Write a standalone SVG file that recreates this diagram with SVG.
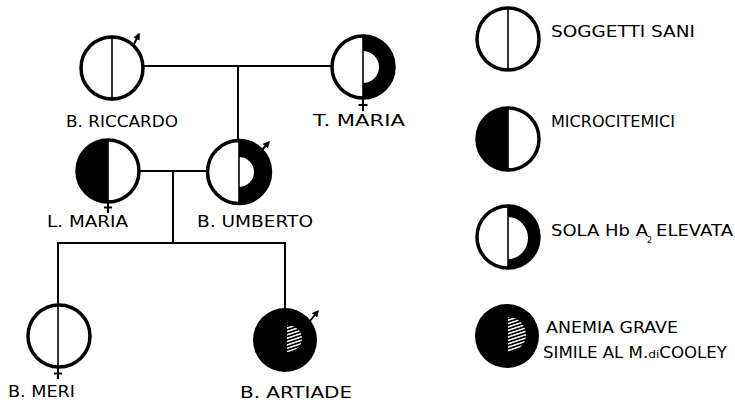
<svg xmlns="http://www.w3.org/2000/svg" width="735" height="405" viewBox="0 0 735 405">
  <defs>
    <style>
      .ring { fill: none; stroke: #000; stroke-width: 3.5; }
      .disc { fill: #fff; }
      .solid { fill: #000; stroke: none; }
      .div { stroke: #000; stroke-width: 1.6; fill: none; }
      .link { stroke: #000; stroke-width: 2; fill: none; }
      .sex { stroke: #000; stroke-width: 2; fill: none; }
      .lbl { font-family: "DejaVu Sans", "Liberation Sans", sans-serif; font-size: 15px; fill: #000; }
    </style>
    <marker id="male" viewBox="0 0 10 10" refX="8" refY="5" markerWidth="7" markerHeight="7" markerUnits="userSpaceOnUse" orient="auto">
      <path d="M0,0 L10,5 L0,10 Z" fill="#000"/>
    </marker>
    <pattern id="hatch" width="4" height="3.2" patternUnits="userSpaceOnUse" patternTransform="rotate(-18)">
      <rect x="0" y="0" width="4" height="1.5" fill="#fff"/>
    </pattern>
  </defs>

  <rect width="735" height="405" fill="#fff"/>

  <!-- connectors -->
  <g id="connectors">
    <line class="link" x1="143" y1="66" x2="332" y2="66"/>
    <line class="link" x1="238" y1="66" x2="238" y2="141"/>
    <line class="link" x1="139" y1="171" x2="208" y2="171"/>
    <line class="link" x1="173" y1="171" x2="173" y2="243"/>
    <line class="link" x1="57" y1="243" x2="286" y2="243"/>
    <line class="link" x1="58" y1="243" x2="58" y2="306"/>
    <line class="link" x1="285" y1="243" x2="285" y2="309"/>
  </g>

  <!-- B. Riccardo: healthy male -->
  <g id="b-riccardo">
    <circle class="disc" cx="112" cy="68" r="31"/>
    <line class="div" x1="112" y1="37" x2="112" y2="99"/>
    <circle class="ring" cx="112" cy="68" r="31"/>
    <line class="sex" x1="133" y1="46" x2="139" y2="34" marker-end="url(#male)"/>
    <text class="lbl" x="66" y="127" textLength="112" lengthAdjust="spacingAndGlyphs">B. RICCARDO</text>
  </g>

  <!-- T. Maria: only HbA2 raised, female -->
  <g id="t-maria">
    <circle class="disc" cx="363" cy="67" r="31"/>
    <path class="solid" d="M363,36 A31,31 0 0 1 363,98 L363,83 A16,16 0 0 0 363,51 Z"/>
    <line class="div" x1="363" y1="36" x2="363" y2="98"/>
    <circle class="ring" cx="363" cy="67" r="31"/>
    <line class="sex" x1="363" y1="99" x2="363" y2="111"/>
    <line class="sex" x1="358.5" y1="105" x2="367.5" y2="105"/>
    <text class="lbl" x="313" y="126" textLength="92" lengthAdjust="spacingAndGlyphs">T. MARIA</text>
  </g>

  <!-- L. Maria: microcythemic female -->
  <g id="l-maria">
    <circle class="disc" cx="108" cy="171" r="31"/>
    <path class="solid" d="M108,140 A31,31 0 0 0 108,202 Z"/>
    <line class="div" x1="108" y1="140" x2="108" y2="202"/>
    <circle class="ring" cx="108" cy="171" r="31"/>
    <line class="sex" x1="108" y1="203" x2="108" y2="213"/>
    <line class="sex" x1="104" y1="207.5" x2="112" y2="207.5"/>
    <text class="lbl" x="47" y="227" textLength="81" lengthAdjust="spacingAndGlyphs">L. MARIA</text>
  </g>

  <!-- B. Umberto: only HbA2 raised, male -->
  <g id="b-umberto">
    <circle class="disc" cx="239" cy="172" r="31.5"/>
    <path class="solid" d="M239,140.5 A31.5,31.5 0 0 1 239,203.5 L239,187 A15,15 0 0 0 239,157 Z"/>
    <line class="div" x1="239" y1="140.5" x2="239" y2="203.5"/>
    <circle class="ring" cx="239" cy="172" r="31.5"/>
    <line class="sex" x1="262" y1="150" x2="269" y2="142" marker-end="url(#male)"/>
    <text class="lbl" x="197" y="227" textLength="116" lengthAdjust="spacingAndGlyphs">B. UMBERTO</text>
  </g>

  <!-- B. Meri: healthy female -->
  <g id="b-meri">
    <circle class="disc" cx="59" cy="336" r="31"/>
    <line class="div" x1="58" y1="305" x2="58" y2="367"/>
    <circle class="ring" cx="59" cy="336" r="31"/>
    <line class="sex" x1="58" y1="368" x2="58" y2="379"/>
    <line class="sex" x1="54" y1="373.5" x2="62" y2="373.5"/>
    <text class="lbl" x="8" y="397" textLength="67" lengthAdjust="spacingAndGlyphs">B. MERI</text>
  </g>

  <!-- B. Artiade: severe anaemia, male -->
  <g id="b-artiade">
    <circle class="solid" cx="285" cy="340" r="32"/>
    <path d="M287,325 A15,13.5 0 0 1 287,352 Z" fill="url(#hatch)"/>
    <line class="sex" x1="310" y1="321" x2="318" y2="311" marker-end="url(#male)"/>
    <text class="lbl" x="240" y="398" textLength="112" lengthAdjust="spacingAndGlyphs">B. ARTIADE</text>
  </g>

  <!-- key -->
  <g id="key-sani">
    <circle class="disc" cx="508" cy="39" r="31"/>
    <line class="div" x1="508" y1="8" x2="508" y2="70"/>
    <circle class="ring" cx="508" cy="39" r="31"/>
    <text class="lbl" x="551" y="37" textLength="144" lengthAdjust="spacingAndGlyphs">SOGGETTI SANI</text>
  </g>

  <g id="key-microcitemici">
    <circle class="disc" cx="508" cy="139" r="31"/>
    <path class="solid" d="M508,108 A31,31 0 0 0 508,170 Z"/>
    <line class="div" x1="508" y1="108" x2="508" y2="170"/>
    <circle class="ring" cx="508" cy="139" r="31"/>
    <text class="lbl" x="551" y="127" textLength="124" lengthAdjust="spacingAndGlyphs">MICROCITEMICI</text>
  </g>

  <g id="key-hba2">
    <circle class="disc" cx="508" cy="237" r="31"/>
    <path class="solid" d="M508,206 A31,31 0 0 1 508,268 L508,259 A20,21 0 0 0 508,217 Z"/>
    <line class="div" x1="508" y1="206" x2="508" y2="268"/>
    <circle class="ring" cx="508" cy="237" r="31"/>
    <text class="lbl" x="551" y="236" textLength="97" lengthAdjust="spacingAndGlyphs">SOLA Hb A</text>
    <text class="lbl" x="647" y="243" style="font-size:8px">2</text>
    <text class="lbl" x="656" y="236" textLength="77" lengthAdjust="spacingAndGlyphs">ELEVATA</text>
  </g>

  <g id="key-anemia">
    <circle class="solid" cx="507" cy="336" r="32"/>
    <path d="M508,317 A18,17.5 0 0 1 508,352 Z" fill="url(#hatch)"/>
    <text class="lbl" x="546" y="333" textLength="132" lengthAdjust="spacingAndGlyphs">ANEMIA GRAVE</text>
    <text class="lbl" x="543" y="358" textLength="184" lengthAdjust="spacingAndGlyphs">SIMILE AL M.<tspan style="font-size:11px">di</tspan>COOLEY</text>
  </g>
</svg>
